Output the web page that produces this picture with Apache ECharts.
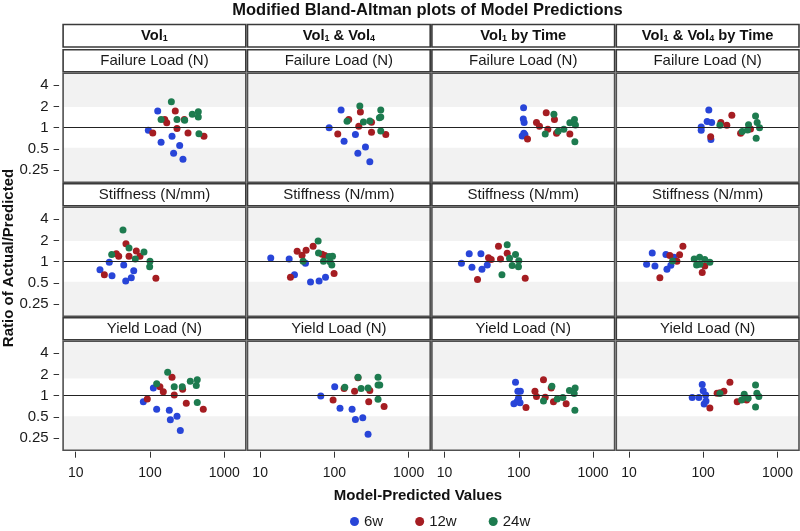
<!DOCTYPE html>
<html><head><meta charset="utf-8">
<script src="https://cdn.jsdelivr.net/npm/echarts@6/dist/echarts.min.js"></script>
<style>html,body{margin:0;padding:0;background:#fff}#c{width:800px;height:531px}</style>
</head><body><div id="c"></div>
<script>
// ---------- labels ----------
const chartTitle = 'Modified Bland-Altman plots of Model Predictions';
const modelColumns = ['Vol{s|1}', 'Vol{s|1} & Vol{s|4}', 'Vol{s|1} by Time', 'Vol{s|1} & Vol{s|4} by Time'];
const outcomeRows = ['Failure Load (N)', 'Stiffness (N/mm)', 'Yield Load (N)'];
const groups = ['6w', '12w', '24w'];
const xTicks = [10, 100, 1000];
const yTicks = [0.25, 0.5, 1, 2, 4];
const xTitle = 'Model-Predicted Values';
const yTitle = 'Ratio of Actual/Predicted';
const bandLimits = [[0.52, 1.97], [0.52, 1.97], [0.51, 1.75]];
const refValue = 1;

// ---------- data: [model-predicted, actual/predicted] ----------
// Failure Load
const FL_V1_6w  = [[127,1.72],[95,0.92],[198,0.756],[141,0.62],[251,0.557],[208,0.434],[278,0.357]];
const FL_V1_12w = [[219,1.72],[158,1.31],[168,1.17],[290,1.31],[109,0.84],[231,0.97],[325,0.84],[533,0.756]];
const FL_V1_24w = [[194,2.33],[141,1.31],[231,1.31],[293,1.27],[371,1.55],[447,1.68],[447,1.42],[456,0.82]];
const FL_V14_6w  = [[123,1.78],[85,1.0],[192,0.80],[135,0.64],[262,0.53],[207,0.434],[300,0.328]];
const FL_V14_12w = [[224,1.67],[156,1.31],[316,1.19],[213,1.05],[111,0.81],[316,0.86],[492,0.80]];
const FL_V14_24w = [[220,2.03],[148,1.23],[246,1.20],[300,1.24],[421,1.78],[421,1.42],[404,1.38],[421,0.90]];
const FL_V1T_6w  = [[116,1.92],[115,1.33],[118,1.18],[117,0.83],[111,0.76],[121,0.79]];
const FL_V1T_12w = [[131,0.69],[234,1.63],[302,1.31],[173,1.18],[190,1.05],[246,0.95],[322,0.83],[487,0.81]];
const FL_V1T_24w = [[297,1.55],[227,0.81],[339,0.89],[404,0.95],[487,1.17],[562,1.31],[579,1.09],[569,0.63]];
const FL_V14T_6w  = [[119,1.78],[113,1.22],[130,1.18],[94,1.02],[94,0.92],[127,0.68]];
const FL_V14T_12w = [[126,0.74],[173,1.18],[208,1.08],[243,1.50],[319,0.83],[434,0.96]];
const FL_V14T_24w = [[168,1.08],[335,0.88],[408,1.10],[396,0.93],[507,1.46],[533,1.18],[574,1.0],[517,0.71]];
// Stiffness
const ST_V1_6w  = [[28.3,0.98],[44.3,0.90],[21.2,0.77],[60.4,0.745],[30.8,0.63],[56,0.59],[47.1,0.53]];
const ST_V1_12w = [[47.5,1.80],[65.4,1.42],[35.2,1.30],[37.9,1.19],[52.2,1.19],[73.3,1.19],[24.3,0.65],[120,0.58]];
const ST_V1_24w = [[43.3,2.82],[52.2,1.56],[83,1.37],[30.5,1.26],[63.4,1.09],[100,1.01],[99,0.85]];
const ST_V14_6w  = [[13.9,1.13],[24.6,1.09],[29,0.65],[40.8,0.95],[47.7,0.515],[62.2,0.53],[75.9,0.60]];
const ST_V14_12w = [[25.6,0.60],[31.5,1.41],[36.7,1.23],[41.6,1.45],[51.7,1.65],[68.3,1.27],[74.3,1.22],[99,0.68]];
const ST_V14_24w = [[60.4,1.97],[61.1,1.33],[37.9,1.01],[71.3,1.01],[84.9,1.18],[94.3,1.19],[87.5,1.0],[92.3,0.90]];
const ST_V1T_6w  = [[16.9,0.95],[21.5,1.30],[23.4,0.83],[30.9,1.30],[31.9,0.78],[37.6,0.90]];
const ST_V1T_12w = [[27.8,0.56],[39.1,1.14],[42.5,1.07],[53.3,1.65],[56.7,1.09],[69.8,1.32],[122,0.58]];
const ST_V1T_24w = [[69.8,1.74],[75,1.12],[90.3,1.26],[81.5,0.88],[100,1.03],[99,0.85],[59.3,0.65]];
const ST_V14T_6w  = [[20.6,1.33],[17.3,0.92],[22.4,0.87],[31.5,1.26],[40.3,1.16],[36.7,0.89],[32.5,0.78]];
const ST_V14T_12w = [[53.3,1.65],[48.1,1.25],[35.6,1.22],[44.3,1.01],[105,0.87],[97,0.70],[26.1,0.59]];
const ST_V14T_24w = [[38.7,1.02],[75.7,1.09],[89.5,1.16],[105,1.07],[123,0.98],[81.5,0.90],[90.3,0.92]];
// Yield Load
const YL_V1_6w  = [[111,1.28],[81.3,0.82],[123,0.64],[182,0.62],[231,0.51],[188,0.455],[256,0.32]];
const YL_V1_12w = [[198,1.83],[136,1.34],[151,1.14],[212,1.02],[275,1.23],[92,0.90],[308,0.78],[522,0.64]];
const YL_V1_24w = [[173,2.16],[123,1.48],[212,1.34],[272,1.34],[349,1.60],[433,1.69],[420,1.39],[433,0.80]];
const YL_V14_6w  = [[65.6,0.99],[101,1.34],[119,0.66],[173,0.64],[192,0.46],[241,0.485],[284,0.284]];
const YL_V14_12w = [[96,0.87],[135,1.26],[187,1.16],[208,1.79],[300,1.18],[290,0.82],[467,0.70]];
const YL_V14_24w = [[208,1.83],[138,1.32],[229,1.26],[284,1.28],[387,1.83],[387,1.42],[408,1.42],[387,0.89]];
const YL_V1T_6w  = [[90.3,1.55],[97.2,1.16],[105,1.16],[99,0.92],[85.9,0.77],[94.3,0.82],[104,0.79]];
const YL_V1T_12w = [[215,1.69],[165,1.16],[173,0.97],[227,0.95],[273,1.29],[293,0.82],[434,0.77],[125,0.68]];
const YL_V1T_24w = [[279,1.36],[215,0.84],[329,0.90],[392,0.94],[481,1.18],[574,1.29],[557,1.07],[569,0.62]];
const YL_V14T_6w  = [[97,1.44],[100,1.17],[108,1.02],[71.1,0.94],[87.5,0.94],[109,0.84],[103,0.76]];
const YL_V14T_12w = [[229,1.55],[190,1.16],[169,1.10],[154,1.08],[287,0.82],[384,0.87],[123,0.67]];
const YL_V14T_24w = [[168,1.07],[357,1.05],[507,1.42],[528,1.08],[562,0.97],[403,0.92],[329,0.87],[507,0.69]];

const panelData = [
  [[FL_V1_6w,FL_V1_12w,FL_V1_24w],[FL_V14_6w,FL_V14_12w,FL_V14_24w],[FL_V1T_6w,FL_V1T_12w,FL_V1T_24w],[FL_V14T_6w,FL_V14T_12w,FL_V14T_24w]],
  [[ST_V1_6w,ST_V1_12w,ST_V1_24w],[ST_V14_6w,ST_V14_12w,ST_V14_24w],[ST_V1T_6w,ST_V1T_12w,ST_V1T_24w],[ST_V14T_6w,ST_V14T_12w,ST_V14T_24w]],
  [[YL_V1_6w,YL_V1_12w,YL_V1_24w],[YL_V14_6w,YL_V14_12w,YL_V14_24w],[YL_V1T_6w,YL_V1T_12w,YL_V1T_24w],[YL_V14T_6w,YL_V14T_12w,YL_V14T_24w]]
];

// ---------- styling / layout ----------
const FONT = "'Liberation Sans', Arial, sans-serif";
const colors = ['#2845d8', '#a51d22', '#1d7b4f'];
const TXT = '#1a1a1a';
const X_MIN = 6.76, X_MAX = 1950;
const Y_MIN = 0.168, Y_MAX = 5.94;
const PW = 182.7, PH = 109;
const colLeft = c => 63.1 + 184.4 * c;
const rowTop = r => 73.2 + 134 * r;

const grids = [], xAxes = [], yAxes = [], series = [], graphics = [];
for (let r = 0; r < 3; r++) {
  for (let c = 0; c < 4; c++) {
    const i = grids.length;
    grids.push({left: colLeft(c), top: rowTop(r), width: PW, height: PH, show: true,
      backgroundColor: '#f2f2f2', borderWidth: 0});
    xAxes.push({type: 'log', logBase: 10, gridIndex: i, min: X_MIN, max: X_MAX, offset: 1.5,
      axisLine: {show: false}, splitLine: {show: false}, minorTick: {show: false},
      axisTick: {show: r === 2, customValues: xTicks, length: 6, lineStyle: {color: '#333', width: 1}},
      axisLabel: {show: r === 2, customValues: xTicks, margin: 14, fontSize: 14, color: TXT, fontFamily: FONT,
        formatter: v => String(+(+v).toPrecision(4))}});
    yAxes.push({type: 'log', logBase: 2, gridIndex: i, min: Y_MIN, max: Y_MAX, offset: 4,
      axisLine: {show: false}, splitLine: {show: false}, minorTick: {show: false},
      axisTick: {show: c === 0, customValues: yTicks, length: 5.5, lineStyle: {color: '#333', width: 1}},
      axisLabel: {show: c === 0, customValues: yTicks, margin: 10.5, fontSize: 15, color: TXT, fontFamily: FONT,
        formatter: v => String(+(+v).toPrecision(4))}});
    for (let g = 0; g < 3; g++) {
      const s = {type: 'scatter', name: groups[g], xAxisIndex: i, yAxisIndex: i, data: panelData[r][c][g],
        symbolSize: 7, itemStyle: {color: colors[g], opacity: 1}, animation: false, z: 3};
      if (g === 0) {
        s.markArea = {silent: true, itemStyle: {color: '#ffffff'},
          data: [[{yAxis: bandLimits[r][0]}, {yAxis: bandLimits[r][1]}]]};
        s.markLine = {silent: true, symbol: ['none', 'none'], animation: false,
          lineStyle: {color: '#222', width: 1, type: 'solid'}, label: {show: false},
          data: [{yAxis: refValue}]};
      }
      series.push(s);
    }
    // panel border
    graphics.push({type: 'rect', z: 100, silent: true,
      shape: {x: colLeft(c), y: rowTop(r), width: PW, height: PH},
      style: {fill: 'none', stroke: '#505050', lineWidth: 1.6}});
    // row strip
    graphics.push({type: 'rect', z: 100, silent: true,
      shape: {x: colLeft(c), y: rowTop(r) - 23.5, width: PW, height: 22},
      style: {fill: '#fff', stroke: '#3a3a3a', lineWidth: 1.6}});
    graphics.push({type: 'text', z: 101, silent: true, x: colLeft(c) + PW / 2, y: rowTop(r) - 12.5,
      style: {text: outcomeRows[r], fontSize: 15, fontFamily: FONT, fill: TXT, align: 'center', verticalAlign: 'middle'}});
  }
}
for (let c = 0; c < 4; c++) {
  graphics.push({type: 'rect', z: 100, silent: true,
    shape: {x: colLeft(c), y: 24.5, width: PW, height: 22.5},
    style: {fill: '#fff', stroke: '#3a3a3a', lineWidth: 1.6}});
  graphics.push({type: 'text', z: 101, silent: true, x: colLeft(c) + PW / 2, y: 35.5,
    style: {text: modelColumns[c], fontSize: 14.7, fontWeight: 'bold', fontFamily: FONT, fill: '#111',
      lineHeight: 16, align: 'center', verticalAlign: 'middle',
      rich: {s: {fontSize: 9, fontWeight: 'bold', fontFamily: FONT, fill: '#111', lineHeight: 8,
        verticalAlign: 'bottom', padding: [4, 0, 0, 0]}}}});
}
graphics.push({type: 'text', silent: true, x: 427.5, y: 10.5,
  style: {text: chartTitle, fontSize: 16.5, fontWeight: 'bold', fontFamily: FONT, fill: '#111', align: 'center', verticalAlign: 'middle'}});
graphics.push({type: 'text', silent: true, x: 418, y: 496,
  style: {text: xTitle, fontSize: 15, fontWeight: 'bold', fontFamily: FONT, fill: '#111', align: 'center', verticalAlign: 'middle'}});
graphics.push({type: 'text', silent: true, x: 8.5, y: 258, rotation: Math.PI / 2,
  style: {text: yTitle, fontSize: 15, fontWeight: 'bold', fontFamily: FONT, fill: '#111', align: 'center', verticalAlign: 'middle'}});

const chart = echarts.init(document.getElementById('c'), null, {renderer: 'canvas'});
chart.setOption({
  animation: false,
  backgroundColor: '#fff',
  grid: grids, xAxis: xAxes, yAxis: yAxes, series: series,
  legend: {data: groups, icon: 'circle', itemWidth: 9, itemHeight: 9, itemGap: 32, left: 345, top: 509,
    textStyle: {fontSize: 15, color: TXT, fontFamily: FONT}},
  graphic: {elements: graphics}
});
</script>
</body></html>
